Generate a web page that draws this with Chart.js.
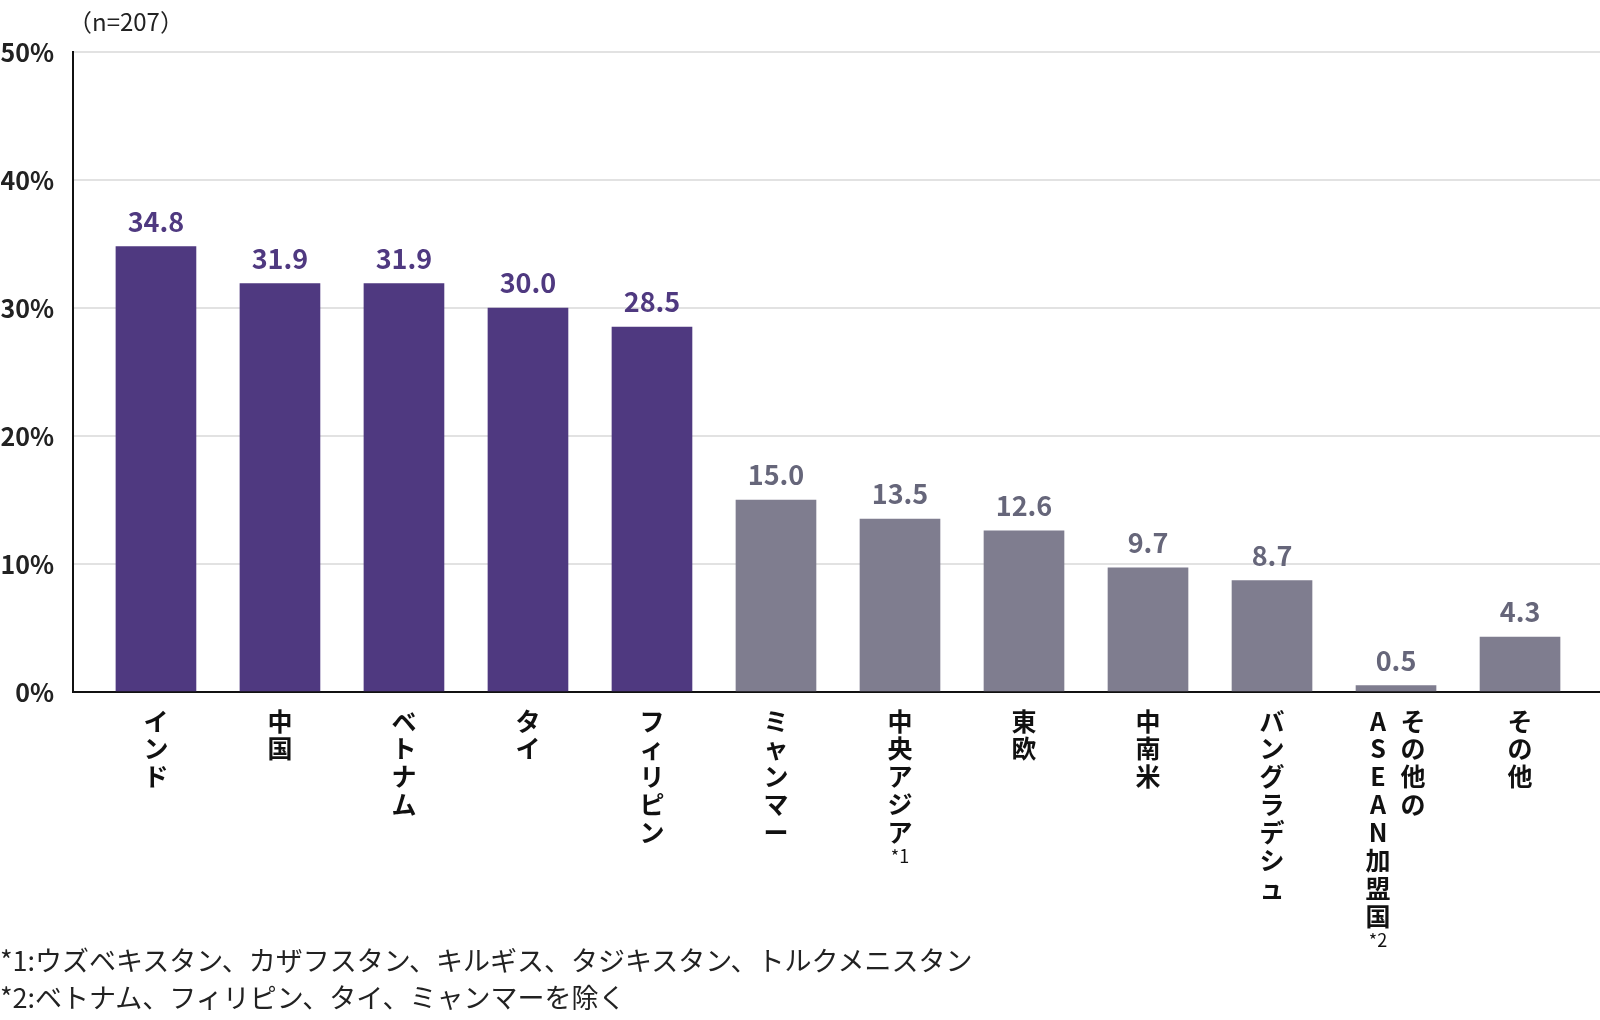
<!DOCTYPE html>
<html lang="ja">
<head>
<meta charset="utf-8">
<script src="https://cdn.jsdelivr.net/npm/chart.js@4"></script>
<style>
    body { margin: 0; background: #fff; }
    #wrap { position: relative; width: 1600px; height: 1020px; font-family: "Noto Sans CJK JP", sans-serif; color: #222; }
    #nLabel { position: absolute; left: 68px; top: 3px; font-size: 24px; }
    .note { position: absolute; left: 0; font-size: 27px; white-space: nowrap; }
</style>
</head>
<body>
<div id="wrap">
    <canvas id="barChart" width="1600" height="1020"></canvas>
    <div id="nLabel">（n=207）</div>
    <div class="note" style="top: 940px;">*1:ウズベキスタン、カザフスタン、キルギス、タジキスタン、トルクメニスタン</div>
    <div class="note" style="top: 977px;">*2:ベトナム、フィリピン、タイ、ミャンマーを除く</div>
</div>
<script>
// vertical labels: each entry is a list of columns, right column first
const categories = [
    [['イ', 'ン', 'ド']],
    [['中', '国']],
    [['ベ', 'ト', 'ナ', 'ム']],
    [['タ', 'イ']],
    [['フ', 'ィ', 'リ', 'ピ', 'ン']],
    [['ミ', 'ャ', 'ン', 'マ', 'ー']],
    [['中', '央', 'ア', 'ジ', 'ア', '*1']],
    [['東', '欧']],
    [['中', '南', '米']],
    [['バ', 'ン', 'グ', 'ラ', 'デ', 'シ', 'ュ']],
    [['そ', 'の', '他', 'の'], ['A', 'S', 'E', 'A', 'N', '加', '盟', '国', '*2']],
    [['そ', 'の', '他']]
];
const shares = [34.8, 31.9, 31.9, 30.0, 28.5, 15.0, 13.5, 12.6, 9.7, 8.7, 0.5, 4.3];
const highlighted = [true, true, true, true, true, false, false, false, false, false, false, false];
const yTicks = [0, 10, 20, 30, 40, 50];

const purple = '#4f3980';
const gray = '#7f7d8f';
const FONT = '"Noto Sans CJK JP", sans-serif';

// draws value labels above bars and the vertical category labels
const labelPlugin = {
    id: 'labelPlugin',
    afterDatasetsDraw(chart) {
        const ctx = chart.ctx;
        const meta = chart.getDatasetMeta(0);
        const xScale = chart.scales.x;
        const base = chart.chartArea.bottom;
        ctx.save();
        ctx.textAlign = 'center';
        ctx.textBaseline = 'middle';
        meta.data.forEach((bar, i) => {
            ctx.font = 'bold 27px ' + FONT;
            ctx.fillStyle = highlighted[i] ? purple : '#66667a';
            ctx.fillText(shares[i].toFixed(1), bar.x, bar.y - 25);

            const cols = categories[i];
            const cx = xScale.getPixelForValue(i);
            cols.forEach((col, c) => {
                const off = cols.length === 1 ? 0 : (c === 0 ? 17 : -18);
                let y = base + 29;
                col.forEach(ch => {
                    ctx.fillStyle = '#111';
                    if (ch.startsWith('*')) {
                        ctx.font = '18px ' + FONT;
                        ctx.fillText(ch, cx + off, y - 4);
                    } else {
                        ctx.font = 'bold 25px ' + FONT;
                        ctx.fillText(ch, cx + off, y);
                    }
                    y += 27.9;
                });
            });
        });
        ctx.restore();
    }
};

const ctx = document.getElementById('barChart').getContext('2d');
new Chart(ctx, {
    type: 'bar',
    data: {
        datasets: [{
            data: shares.map((v, i) => ({ x: i, y: v })),
            backgroundColor: highlighted.map(h => h ? purple : gray),
            barThickness: 80
        }]
    },
    options: {
        responsive: false,
        animation: false,
        layout: { padding: { top: 52, right: 0, left: 0, bottom: 0 } },
        plugins: {
            legend: { display: false },
            tooltip: { enabled: false }
        },
        scales: {
            x: {
                type: 'linear',
                offset: false,
                min: -0.669,
                max: 11.645,
                grid: { display: false, drawTicks: false, offset: false },
                border: { display: true, color: '#111', width: 2 },
                ticks: { display: false },
                afterFit: scale => { scale.height = 328; }
            },
            y: {
                min: 0,
                max: 50,
                afterBuildTicks: scale => { scale.ticks = yTicks.map(v => ({ value: v })); },
                grid: { color: '#e2e2e2', lineWidth: 2, drawTicks: false },
                border: { display: true, color: '#111', width: 2 },
                ticks: {
                    padding: 19,
                    color: '#222',
                    font: { family: FONT, size: 25, weight: 'bold' },
                    callback: v => v + '%'
                },
                afterFit: scale => { scale.width = 73; }
            }
        }
    },
    plugins: [labelPlugin]
});
</script>
</body>
</html>
